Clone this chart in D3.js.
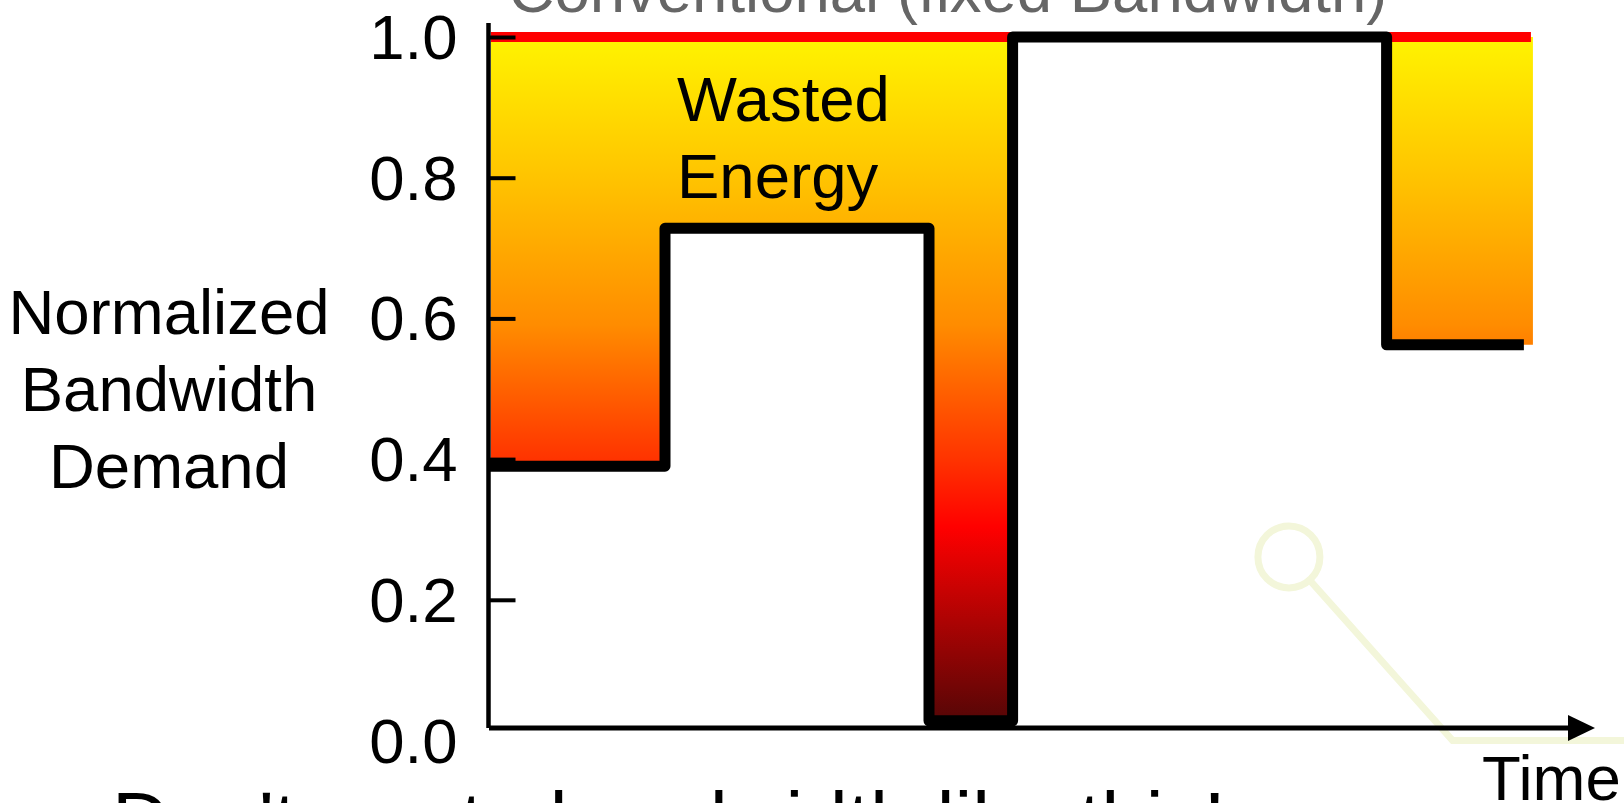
<!DOCTYPE html>
<html>
<head>
<meta charset="utf-8">
<script src="https://cdn.jsdelivr.net/npm/d3@7"></script>
<style>
  html, body { margin: 0; padding: 0; background: #fff; overflow: hidden; }
  svg { display: block; font-family: "Liberation Sans", Arial, Helvetica, sans-serif; }
</style>
</head>
<body>
<svg id="chart" width="1624" height="803"></svg>
<script>
// Bandwidth demand over time: each level starts at stepTimes[i] and holds until the next step
const stepTimes  = [0, 2, 5, 5.95, 10.2];
const stepLevels = [0.39, 0.728, 0.028, 1.0, 0.5625];
const demandEnd  = 11.76;   // where the demand trace stops
const bandEnd    = 11.84;   // where the provisioned band stops
const fixedLevel = 1.0;     // a conventional link always runs at full bandwidth

const yTicks      = [0, 0.2, 0.4, 0.6, 0.8, 1.0];
const yTickLabels = ["0.0", "0.2", "0.4", "0.6", "0.8", "1.0"];
const yLabelLines = ["Normalized", "Bandwidth", "Demand"];
const titleText   = "Conventional (fixed Bandwidth)";
const wasteLines  = ["Wasted", "Energy"];
const xLabel      = "Time";
const footerText  = "Don't waste bandwidth like this!";

const svg = d3.select("#chart");
const W = 1624, H = 803;
const FONT = 63.5;

const x = d3.scaleLinear().domain([0, 12]).range([489, 1545]);
const y = d3.scaleLinear().domain([0, 1]).range([740.5, 37]);
const axisY = y(0) - 12.5;        // time axis baseline, just above the 0.0 label

// ---- gradient for the wasted-energy band ----
const defs = svg.append("defs");
const grad = defs.append("linearGradient")
  .attr("id", "waste")
  .attr("gradientUnits", "userSpaceOnUse")
  .attr("x1", 0).attr("x2", 0)
  .attr("y1", y(fixedLevel) + 5)
  .attr("y2", y(d3.min(stepLevels)) - 5);
[
  [0.00, "#fff200"],
  [0.20, "#ffc400"],
  [0.42, "#ff8c00"],
  [0.62, "#ff3300"],
  [0.72, "#ff0000"],
  [1.00, "#5a0606"]
].forEach(([o, c]) => grad.append("stop").attr("offset", o).attr("stop-color", c));

// ---- faint callout decoration behind the chart ----
const callout = { cx: 9.09, cy: 0.261, elbowT: 10.95, elbowV: 0 };
const deco = svg.append("g").attr("fill", "none").attr("stroke", "#f3f6da").attr("stroke-width", 7);
const r = 31;
deco.append("circle").attr("cx", x(callout.cx)).attr("cy", y(callout.cy)).attr("r", r);
{
  const dx = x(callout.elbowT) - x(callout.cx), dy = y(callout.elbowV) - y(callout.cy);
  const len = Math.hypot(dx, dy);
  deco.append("polyline").attr("points", [
    [x(callout.cx) + dx / len * r, y(callout.cy) + dy / len * r],
    [x(callout.elbowT), y(callout.elbowV)],
    [W + 10, y(callout.elbowV)]
  ].map(p => p.join(",")).join(" "));
}

// ---- wasted band: between the fixed level and actual demand ----
const bandPts = stepTimes.map((t, i) => ({ t, v: stepLevels[i] }));
bandPts.push({ t: bandEnd, v: stepLevels[stepLevels.length - 1] });

const area = d3.area()
  .curve(d3.curveStepAfter)
  .x(d => x(d.t))
  .y0(d => y(d.v))
  .y1(y(fixedLevel));

svg.append("path")
  .datum(bandPts)
  .attr("d", area)
  .attr("fill", "url(#waste)")
  .attr("transform", "translate(2,0)");

// fixed bandwidth line
svg.append("line")
  .attr("x1", x(0) + 2).attr("x2", x(bandEnd))
  .attr("y1", y(fixedLevel)).attr("y2", y(fixedLevel))
  .attr("stroke", "#ff0000").attr("stroke-width", 10);

// demand trace
const demandPts = stepTimes.map((t, i) => ({ t, v: stepLevels[i] }));
demandPts.push({ t: demandEnd, v: stepLevels[stepLevels.length - 1] });

svg.append("path")
  .datum(demandPts)
  .attr("d", d3.line().curve(d3.curveStepAfter).x(d => x(d.t)).y(d => y(d.v)))
  .attr("fill", "none")
  .attr("stroke", "#000")
  .attr("stroke-width", 11)
  .attr("stroke-linejoin", "round")
  .attr("stroke-linecap", "butt");

// ---- axes ----
const yAxis = d3.axisLeft(y)
  .tickValues(yTicks)
  .tickFormat((d, i) => yTickLabels[i])
  .tickSizeInner(-27)
  .tickSizeOuter(0)
  .tickPadding(31);

const gy = svg.append("g")
  .attr("transform", `translate(${x(0) - 0.5},0)`)
  .call(yAxis);
gy.select(".domain").remove();
gy.selectAll(".tick line").attr("stroke", "#000").attr("stroke-width", 4)
  .filter(d => d === 0).remove();
gy.selectAll(".tick text")
  .attr("fill", "#000")
  .attr("font-size", FONT)
  .attr("font-family", "\"Liberation Sans\", Arial, sans-serif")
  .attr("dy", "0.34em");

// vertical axis line
svg.append("line")
  .attr("x1", x(0) - 0.5).attr("x2", x(0) - 0.5)
  .attr("y1", y(fixedLevel) - 14).attr("y2", axisY)
  .attr("stroke", "#000").attr("stroke-width", 4.5);

// time axis with arrow
const arrowTip = 1595, arrowLen = 27, arrowHalf = 13;
svg.append("line")
  .attr("x1", x(0)).attr("x2", arrowTip - arrowLen + 1)
  .attr("y1", axisY).attr("y2", axisY)
  .attr("stroke", "#000").attr("stroke-width", 5);
svg.append("path")
  .attr("d", `M${arrowTip},${axisY} L${arrowTip - arrowLen},${axisY - arrowHalf} L${arrowTip - arrowLen},${axisY + arrowHalf} Z`)
  .attr("fill", "#000");

// ---- text ----
svg.append("text")
  .attr("x", 948).attr("y", 12)
  .attr("text-anchor", "middle")
  .attr("font-size", FONT)
  .attr("fill", "#666")
  .text(titleText);

svg.append("g").selectAll("text")
  .data(yLabelLines).join("text")
  .attr("x", 169)
  .attr("y", (d, i) => y(0.5) + 22 + (i - 1) * 77)
  .attr("text-anchor", "middle")
  .attr("font-size", FONT)
  .attr("fill", "#000")
  .text(d => d);

svg.append("g").selectAll("text")
  .data(wasteLines).join("text")
  .attr("x", x(stepTimes[1]) + 12)
  .attr("y", (d, i) => y(0.88) + i * 77)
  .attr("font-size", FONT)
  .attr("fill", "#000")
  .text(d => d);

svg.append("text")
  .attr("x", 1482).attr("y", 800)
  .attr("font-size", FONT)
  .attr("fill", "#000")
  .text(xLabel);

svg.append("text")
  .attr("x", 112).attr("y", 848)
  .attr("font-size", 80)
  .attr("fill", "#000")
  .text(footerText);
</script>
</body>
</html>
